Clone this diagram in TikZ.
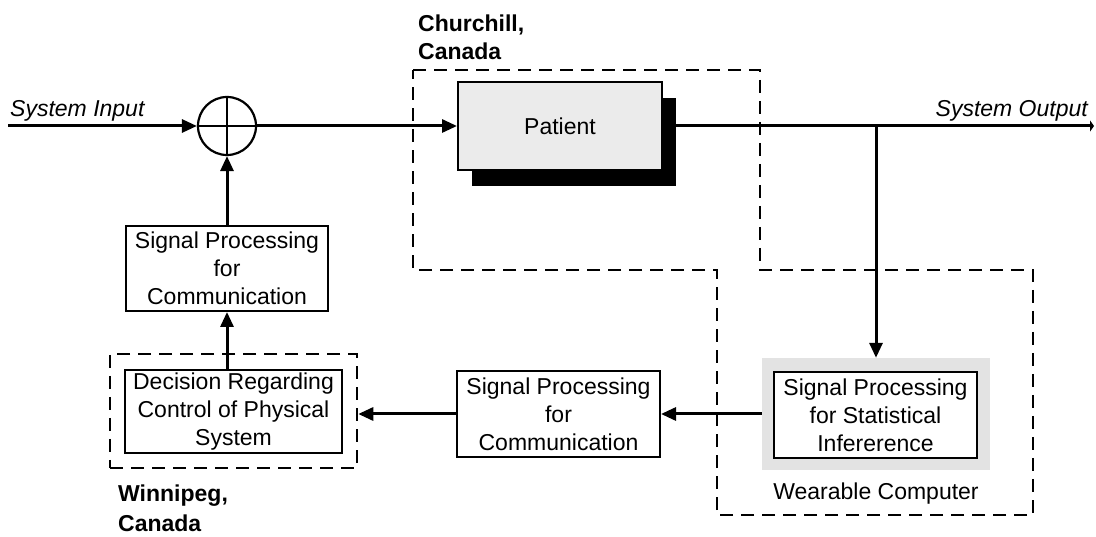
\documentclass[tikz,border=0pt]{standalone}
\usepackage{fontspec}
\setmainfont{Liberation Sans}
\usetikzlibrary{arrows.meta}
\begin{document}
\begin{tikzpicture}[x=1pt,y=-1pt,
  txt/.style={font=\fontsize{23}{28}\selectfont},
  block/.style={draw, line width=2pt, fill=white, align=center, inner sep=0pt, txt},
  zone/.style={draw, line width=2.5pt, dash pattern=on 13pt off 8pt},
  link/.style={line width=3pt, -{Triangle[length=15pt,width=13pt]}},
  plain/.style={line width=3pt},
  place/.style={font=\fontsize{23}{26}\selectfont\bfseries, align=left, inner sep=0pt},
]
\useasboundingbox (0,0) rectangle (1096,537);

% Churchill site boundary
\draw[zone] (413,70) -- (760,70) -- (760,270) -- (1033,270) -- (1033,515)
  -- (717,515) -- (717,270) -- (413,270) -- cycle;

% summing junction
\node[draw, circle, line width=2.2pt, minimum size=58pt, inner sep=0pt] (sum) at (227,126) {};
\draw[line width=2.2pt] (sum.north) -- (sum.south) (sum.west) -- (sum.east);

% patient block with drop shadow
\node[fill=black, minimum width=204pt, minimum height=88pt, inner sep=0pt] (patientshadow) at (574,142) {};
\node[block, fill=gray!16, minimum width=204pt, minimum height=88pt] (patient) at (560,126) {Patient};

% wearable computer
\node[fill=gray!22, minimum width=228pt, minimum height=112pt, inner sep=0pt] (wearframe) at (876,414) {};
\node[block, minimum width=203pt, minimum height=86pt] (stat) at (875.5,415) {Signal Processing\\for Statistical\\Infererence};
\node[txt, anchor=base, inner sep=0pt] (wearlabel) at (876,500) {Wearable Computer};

% communication blocks
\node[block, minimum width=203pt, minimum height=86pt] (comm2) at (558.5,414) {Signal Processing\\for\\Communication};
\node[block, minimum width=202pt, minimum height=85pt] (comm1) at (227,268.5) {Signal Processing\\for\\Communication};

% Winnipeg decision block
\node[zone, minimum width=247pt, minimum height=114pt, inner sep=0pt] (winzone) at (233.5,411) {};
\node[block, minimum width=217pt, minimum height=83pt] (decide) at (233.5,411.5) {Decision Regarding\\Control of Physical\\System};

% signal path
\coordinate (sysin) at (8,126);
\coordinate (tap) at (876,126);
\coordinate (sysout) at (1094,126);
\draw[link] (sysin) -- (sum.west);
\draw[link] (sum.east) -- (patient.west);
\draw[plain, -{Triangle[length=4pt,width=11pt]}] (patient.east) -- (sysout);
\draw[link] (tap) -- (wearframe.north);
\draw[link] (wearframe.west) -- (comm2.east);
\draw[link] (comm2.west) -- (comm2.west -| winzone.east);
\draw[link] (decide.north -| comm1.south) -- (comm1.south);
\draw[link] (comm1.north) -- (sum.south);

% labels
\node[txt, font=\fontsize{23}{28}\selectfont\itshape, anchor=base west, inner sep=0pt] (inlabel) at (10,117) {System Input};
\node[txt, font=\fontsize{23}{28}\selectfont\itshape, anchor=base east, inner sep=0pt] (outlabel) at (1088,117) {System Output};
\node[place, anchor=north west] (churchill) at (418,15) {Churchill,\\[2pt]Canada};
\node[place, anchor=north west] (winnipeg) at (118,485) {Winnipeg,\\[4pt]Canada};
\end{tikzpicture}
\end{document}
